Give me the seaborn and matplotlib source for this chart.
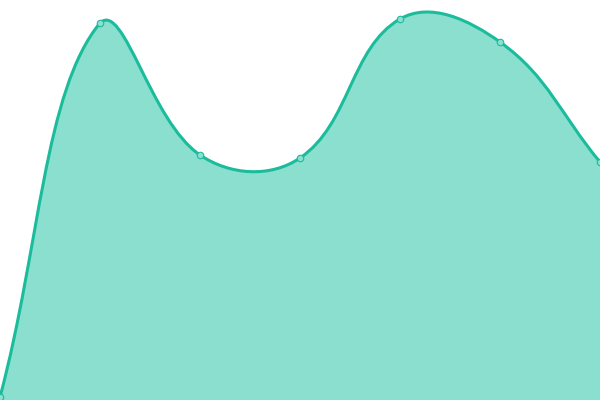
import matplotlib
matplotlib.use("Agg")
import matplotlib.pyplot as plt
import seaborn as sns
import numpy as np
import pandas as pd
from matplotlib.path import Path
from matplotlib.patches import PathPatch

labels = ["A", "B", "C", "D", "E", "F", "G"]
values = [3, 377, 245, 242, 381, 358, 238]

line_color = "#1abc9c"
fill_color = "#8adfcf"
tension = 0.4
x_max, y_max = 600, 400


def bezier_controls(xs, ys, t):
    # control points like a cardinal spline (tension t), kept inside the plot area
    n = len(xs)
    cps = []
    for i in range(n):
        px, py = (xs[i - 1], ys[i - 1]) if i > 0 else (xs[i], ys[i])
        nx, ny = (xs[i + 1], ys[i + 1]) if i < n - 1 else (xs[i], ys[i])
        d01 = np.hypot(xs[i] - px, ys[i] - py)
        d12 = np.hypot(nx - xs[i], ny - ys[i])
        tot = d01 + d12 if d01 + d12 > 0 else 1
        fa = t * d01 / tot
        fb = t * d12 / tot
        c1 = (np.clip(xs[i] - fa * (nx - px), 0, x_max),
              np.clip(ys[i] - fa * (ny - py), 0, y_max))
        c2 = (np.clip(xs[i] + fb * (nx - px), 0, x_max),
              np.clip(ys[i] + fb * (ny - py), 0, y_max))
        cps.append((c1, c2))
    return cps


df = pd.DataFrame({"label": labels, "value": values})
df["x"] = np.arange(len(df)) * 100

xs = df["x"].to_numpy(dtype=float)
ys = df["value"].to_numpy(dtype=float)
cps = bezier_controls(xs, ys, tension)

verts = [(xs[0], ys[0])]
codes = [Path.MOVETO]
for i in range(len(xs) - 1):
    verts += [cps[i][1], cps[i + 1][0], (xs[i + 1], ys[i + 1])]
    codes += [Path.CURVE4] * 3

fill_verts = verts + [(xs[-1], 0), (xs[0], 0), (xs[0], ys[0])]
fill_codes = codes + [Path.LINETO, Path.LINETO, Path.CLOSEPOLY]

fig = plt.figure(figsize=(6, 4), dpi=100)
ax = fig.add_axes([0, 0, 1, 1])

ax.add_patch(PathPatch(Path(fill_verts, fill_codes), facecolor=fill_color,
                       edgecolor="none", zorder=1))
ax.add_patch(PathPatch(Path(verts, codes), facecolor="none",
                       edgecolor=line_color, linewidth=2.2, zorder=2))

sns.scatterplot(data=df, x="x", y="value", ax=ax, s=22, color=fill_color,
                edgecolor=line_color, linewidth=0.8, zorder=3, legend=False)

ax.set_xlim(0, x_max)
ax.set_ylim(0, y_max)
ax.axis("off")

fig.savefig("out.png", dpi=100)
